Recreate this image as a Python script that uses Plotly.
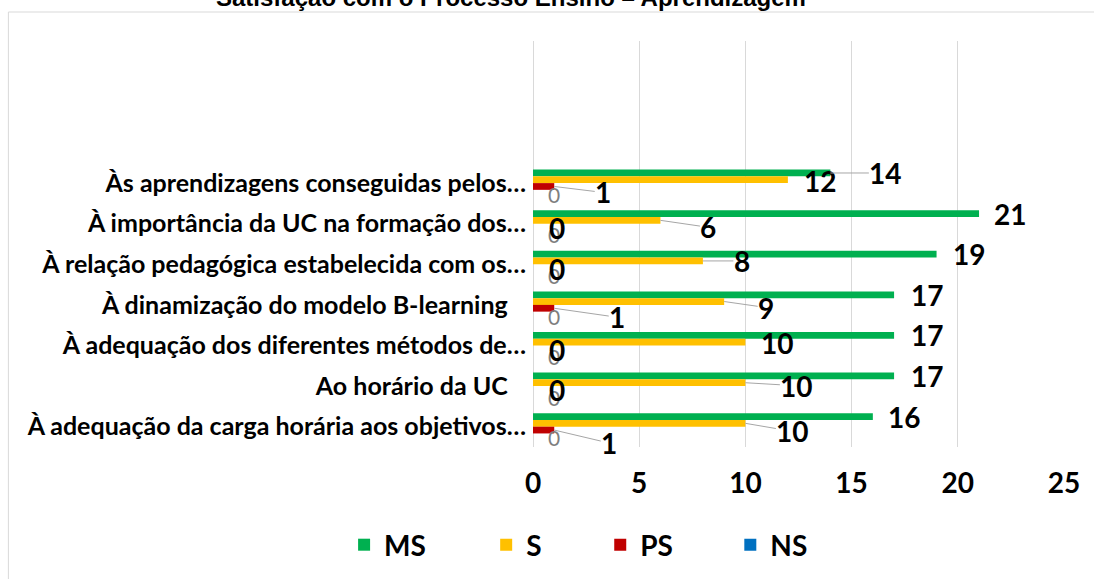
import plotly.graph_objects as go

# ---------------- data ----------------
categories = [
    "Às aprendizagens conseguidas pelos…",
    "À importância da UC na formação dos…",
    "À relação pedagógica estabelecida com os…",
    "À dinamização do modelo B-learning\u00a0\u00a0\u00a0",
    "À adequação dos diferentes métodos de…",
    "Ao horário da UC\u00a0\u00a0\u00a0",
    "À adequação da carga horária aos objetivos…",
]
series_names = ["MS", "S", "PS", "NS"]
ms_values = [14, 21, 19, 17, 17, 17, 16]
s_values = [12, 6, 8, 9, 10, 10, 10]
ps_values = [1, 0, 0, 1, 0, 0, 1]
ns_values = [0, 0, 0, 0, 0, 0, 0]
x_ticks = [0, 5, 10, 15, 20, 25]
title_text = "Satisfação com o Processo Ensino – Aprendizagem"

# ---------------- styling ----------------
colors = {"MS": "#00B050", "S": "#FFC000", "PS": "#C00000", "NS": "#0070C0"}
W, H = 1094, 579
PL, PR, PT, PB = 533.3, 1064.0, 41.0, 447.0   # plot area in pixels
BARGAP = 0.336
N_EMPTY_TOP = 3

# label offsets (dx, dy in px from bar end, leader line?)
label_offsets = {
    "MS": [(55, 0, True), (31, 0, False), (32, 0, False), (33, 0, False),
           (33, 0, False), (33, 0, False), (31, 0, False)],
    "S": [(32, 1, False), (48, 7, True), (39, 0, True), (42, 6, True),
          (32, 1, False), (51, 3, True), (47, 8, True)],
    "PS1": [(49, 6, True), None, None, (63, 9, True), None, None, (55, 13, True)],
}

def px_x(px):
    return (px - PL) / (PR - PL)

def px_y(py):
    return (PB - py) / (PB - PT)

series_values = {"MS": ms_values, "S": s_values, "PS": ps_values, "NS": ns_values}

fig = go.Figure()
legend_keys = ["legend", "legend2", "legend3", "legend4"]
for k, name in enumerate(series_names):
    fig.add_trace(go.Bar(
        x=series_values[name], y=categories, orientation="h", name=name,
        marker=dict(color=colors[name], line=dict(width=0)),
        legend=legend_keys[k], hoverinfo="x+name",
    ))

# ---------------- data labels ----------------
bw = (1 - BARGAP) / 4
annotations = []
bold_font = dict(family="Lato", size=28, color="#000000", weight="bold")
gray_font = dict(family="Lato", size=21, color="#7F7F7F")
lead_color = "#A6A6A6"

def add_label(val, ypos, dx, dy, leader, font):
    annotations.append(dict(
        x=val, y=ypos, xref="x", yref="y", text=str(val), font=font,
        showarrow=True, ax=dx, ay=dy, axref="pixel", ayref="pixel",
        arrowhead=0, arrowwidth=1, standoff=0, borderpad=0,
        arrowcolor=lead_color if leader else "rgba(0,0,0,0)",
    ))

for i in range(len(categories)):
    # NS (gray, drawn first)
    add_label(ns_values[i], i + (3 - 1.5) * bw, 21, 1, False, gray_font)
    # PS
    if ps_values[i] > 0:
        dx, dy, ld = label_offsets["PS1"][i]
    else:
        dx, dy, ld = 24, 1, False
    add_label(ps_values[i], i + (2 - 1.5) * bw, dx, dy, ld, bold_font)
    # S
    dx, dy, ld = label_offsets["S"][i]
    add_label(s_values[i], i + (1 - 1.5) * bw, dx, dy, ld, bold_font)
    # MS
    dx, dy, ld = label_offsets["MS"][i]
    add_label(ms_values[i], i + (0 - 1.5) * bw, dx, dy, ld, bold_font)

# title (partly cut at top as in reference)
annotations.append(dict(
    x=px_x(511), y=px_y(-2), xref="paper", yref="paper", text=title_text,
    showarrow=False, xanchor="center", yanchor="middle",
    font=dict(family="Liberation Sans", size=24, color="#000000", weight="bold"),
))

shapes = [dict(
    type="rect", xref="paper", yref="paper",
    x0=px_x(9), x1=px_x(1100), y0=px_y(12), y1=px_y(600),
    line=dict(color="#D9D9D9", width=1), fillcolor="rgba(0,0,0,0)", layer="below",
)]

legend_font = dict(family="Lato", size=28, color="#000000", weight="bold")
legend_sq_centers = [364.5, 506.5, 620.5, 750.5]
legend_layouts = {}
for k, key in enumerate(legend_keys):
    legend_layouts[key] = dict(
        x=px_x(legend_sq_centers[k] - 20), y=px_y(545),
        xanchor="left", yanchor="middle", orientation="h",
        font=legend_font, bgcolor="rgba(0,0,0,0)", borderwidth=0,
    )

fig.update_layout(
    width=W, height=H,
    margin=dict(l=PL, r=W - PR, t=PT, b=H - PB, autoexpand=False),
    paper_bgcolor="white", plot_bgcolor="white",
    barmode="group", bargap=BARGAP, bargroupgap=0,
    showlegend=True,
    annotations=annotations, shapes=shapes,
    xaxis=dict(
        range=[0, 25], tickvals=x_ticks, showgrid=True, gridcolor="#D9D9D9",
        gridwidth=1, zeroline=True, zerolinecolor="#D9D9D9", zerolinewidth=1,
        showline=False, ticks="", ticklabelstandoff=17,
        tickfont=dict(family="Lato", size=28, color="#000000", weight="bold"),
    ),
    yaxis=dict(
        type="category", categoryorder="array", categoryarray=categories,
        range=[len(categories) - 0.5, -0.5 - N_EMPTY_TOP],
        showgrid=False, zeroline=False, showline=False, ticks="",
        ticklabelstandoff=6,
        tickfont=dict(family="Lato", size=25, color="#000000", weight="bold"),
    ),
    **legend_layouts,
)

# the page must not add its default 8px body margin around the figure
fig.write_html(
    "out.html",
    config={"displayModeBar": False},
    post_script="document.body.style.margin='0';",
)
